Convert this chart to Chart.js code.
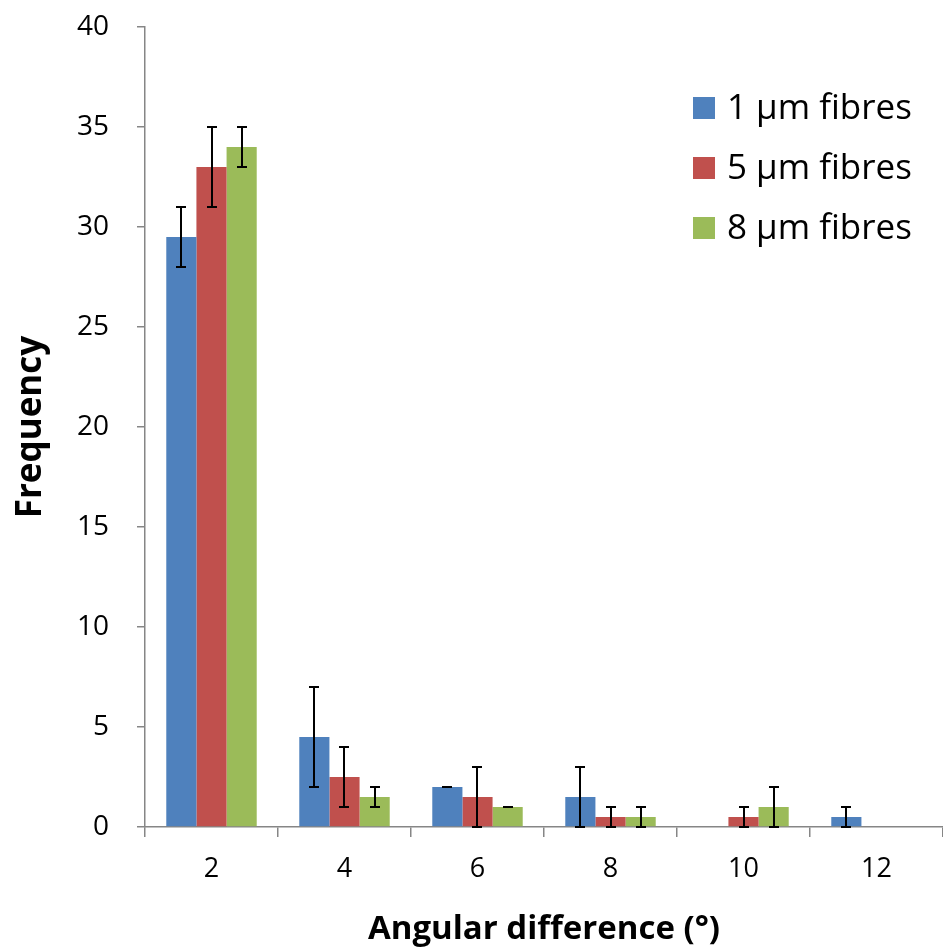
<!DOCTYPE html>
<html>
<head>
<meta charset="utf-8">
<script src="https://cdn.jsdelivr.net/npm/chart.js@4/dist/chart.umd.min.js"></script>
<style>
  html, body { margin: 0; padding: 0; background: #ffffff; }
  #wrap { width: 943px; height: 951px; }
</style>
</head>
<body>
<div id="wrap"><canvas id="c" width="943" height="951"></canvas></div>
<script>
// Angular difference bins (degrees)
const categories = ['2', '4', '6', '8', '10', '12'];

// Mean frequency per bin
const fibres1 = [29.5, 4.5, 2, 1.5, 0, 0.5];
const fibres5 = [33, 2.5, 1.5, 0.5, 0.5, 0];
const fibres8 = [34, 1.5, 1, 0.5, 1, 0];

// Error bar extents [low, high] per bin (null = no bar)
const err1 = [[28, 31], [2, 7], [2, 2], [0, 3], null, [0, 1]];
const err5 = [[31, 35], [1, 4], [0, 3], [0, 1], [0, 1], null];
const err8 = [[33, 35], [1, 2], [1, 1], [0, 1], [0, 2], null];

const seriesLabels = ['1 \u00b5m fibres', '5 \u00b5m fibres', '8 \u00b5m fibres'];
const yTicks = [0, 5, 10, 15, 20, 25, 30, 35, 40];

const FONT = "'Open Sans', 'DejaVu Sans', sans-serif";
const AXIS = '#868686';

const errorBars = {
  id: 'errorBars',
  afterDatasetsDraw(chart) {
    const ctx = chart.ctx;
    const y = chart.scales.y;
    ctx.save();
    ctx.strokeStyle = '#000000';
    ctx.lineWidth = 2;
    chart.data.datasets.forEach((ds, i) => {
      const meta = chart.getDatasetMeta(i);
      meta.data.forEach((bar, j) => {
        const e = ds.errors[j];
        if (!e) return;
        const x = Math.round(bar.x);
        const yl = y.getPixelForValue(e[0]);
        const yh = y.getPixelForValue(e[1]);
        ctx.beginPath();
        ctx.moveTo(x, yl); ctx.lineTo(x, yh);
        ctx.moveTo(x - 5, yl); ctx.lineTo(x + 5, yl);
        ctx.moveTo(x - 5, yh); ctx.lineTo(x + 5, yh);
        ctx.stroke();
      });
    });
    ctx.restore();
  }
};

const boxLegend = {
  id: 'boxLegend',
  afterDraw(chart) {
    const ctx = chart.ctx;
    ctx.save();
    ctx.font = '35px ' + FONT;
    ctx.textBaseline = 'middle';
    ctx.textAlign = 'left';
    chart.data.datasets.forEach((ds, i) => {
      const cy = 108 + i * 60;
      ctx.fillStyle = ds.backgroundColor;
      ctx.fillRect(693, cy - 11, 22, 22);
      ctx.fillStyle = '#000000';
      ctx.fillText(ds.label, 727, cy + 1);
    });
    ctx.restore();
  }
};

new Chart(document.getElementById('c'), {
  type: 'bar',
  data: {
    labels: categories,
    datasets: [
      { label: seriesLabels[0], data: fibres1, errors: err1, backgroundColor: '#4F81BD' },
      { label: seriesLabels[1], data: fibres5, errors: err5, backgroundColor: '#C0504D' },
      { label: seriesLabels[2], data: fibres8, errors: err8, backgroundColor: '#9BBB59' }
    ]
  },
  options: {
    responsive: false,
    animation: false,
    devicePixelRatio: 1,
    layout: { padding: { top: 27, right: 0, left: 0, bottom: 0 } },
    datasets: { bar: { categoryPercentage: 0.68, barPercentage: 1.0, borderWidth: 0 } },
    plugins: { legend: { display: false }, tooltip: { enabled: false } },
    scales: {
      x: {
        grid: { display: true, drawOnChartArea: false, offset: true, tickLength: 10, color: AXIS, lineWidth: 1.5 },
        border: { color: AXIS, width: 1.5 },
        ticks: { color: '#000000', font: { family: FONT, size: 27 }, padding: 16 },
        title: { display: true, text: 'Angular difference (\u00b0)', color: '#000000',
                 font: { family: FONT, size: 33, weight: 'bold' }, padding: { top: 4, bottom: 2 } },
        afterFit(s) { s.height = 124; }
      },
      y: {
        min: 0, max: 40,
        afterBuildTicks(s) { s.ticks = yTicks.map(v => ({ value: v })); },
        grid: { display: true, drawOnChartArea: false, tickLength: 8, color: AXIS, lineWidth: 1.5 },
        border: { color: AXIS, width: 1.5 },
        ticks: { color: '#000000', font: { family: FONT, size: 28 }, padding: 28 },
        title: { display: true, text: 'Frequency', color: '#000000',
                 font: { family: FONT, size: 35, weight: 'bold' }, padding: { top: 10, bottom: 0 } },
        afterFit(s) { s.width = 145; s.paddingTop = 0; s.paddingBottom = 0; }
      }
    }
  },
  plugins: [errorBars, boxLegend]
});
</script>
</body>
</html>
